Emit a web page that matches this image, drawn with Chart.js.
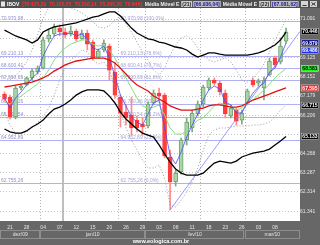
<!DOCTYPE html>
<html>
<head>
<meta charset="utf-8">
<script src="https://cdn.jsdelivr.net/npm/chart.js@4.4.1/dist/chart.umd.min.js"></script>
<style>
  html, body { margin: 0; padding: 0; background: #676767; overflow: hidden; }
  canvas { display: block; }
</style>
</head>
<body>
<canvas id="chart" width="320" height="245"></canvas>
<script>
// trading days shown (dd/mm)
const dates = ['18/12','21/12','22/12','23/12','28/12','29/12','30/12',
  '04/01','05/01','06/01','07/01','08/01','11/01','12/01','13/01','14/01','15/01','18/01','19/01','20/01','21/01','22/01','26/01','27/01','28/01','29/01',
  '01/02','02/02','03/02','04/02','05/02','08/02','09/02','10/02','11/02','12/02','17/02','18/02','19/02','22/02','23/02','24/02','25/02','26/02',
  '01/03','02/03','03/03','04/03','05/03','08/03','09/03','10/03'];

// IBOV, thousands of points
const opens  = [67.28,67.13,66.12,67.59,67.74,68.10,68.40, 68.60,70.08,70.33,70.63,70.43,70.33,70.48,70.08,70.38,69.92,69.16,69.52,69.72,68.40,67.13,66.37,66.22,65.96,65.76,
  65.66,66.83,67.33,67.23,64.09,62.82,63.33,64.95,65.56,66.27,66.78,67.59,67.99,67.84,67.33,66.17,66.47,65.96, 66.83,67.99,67.84,67.59,68.25,69.11,68.91,69.97];
const highs  = [67.39,67.23,67.69,67.74,68.15,68.55,68.71, 70.18,70.53,70.84,70.79,70.63,70.74,70.58,70.53,70.53,70.03,69.57,70.03,69.82,68.91,67.23,66.73,67.13,66.17,66.07,
  66.88,67.49,67.59,67.33,64.44,63.43,65.05,66.07,66.47,66.93,67.74,68.10,68.10,67.94,67.49,66.73,66.57,66.47, 67.54,68.10,68.05,68.15,69.11,69.21,70.13,70.63];
const lows   = [66.93,66.02,66.02,67.49,67.69,67.99,68.30, 68.55,69.92,70.23,70.23,70.13,70.23,69.97,70.03,69.52,69.01,69.11,69.42,67.99,67.08,65.61,65.71,65.20,65.36,65.20,
  65.56,66.73,66.98,64.04,61.40,62.61,63.22,64.70,65.36,66.17,66.62,67.49,67.74,67.23,66.07,66.07,65.71,65.76, 66.73,67.64,67.69,66.98,68.20,68.65,68.81,69.87];
const closes = [67.03,66.12,67.59,67.69,68.10,68.45,68.60, 70.03,70.28,70.69,70.43,70.28,70.48,70.08,70.38,69.82,69.11,69.47,69.87,68.50,67.23,66.32,66.07,65.56,65.56,65.61,
  66.78,67.33,67.18,64.14,62.82,63.27,64.95,65.86,66.32,66.78,67.64,67.99,67.84,67.39,66.27,66.57,65.91,66.32, 67.44,67.74,67.94,67.99,68.96,68.76,69.72,70.446];

// indicators
const bandUpper = [70.53,70.38,70.23,70.13,70.03,69.87,70.03,70.43,70.58,70.69,70.74,70.79,70.84,70.89,70.99,71.09,71.19,71.24,71.35,71.45,71.45,71.24,70.94,70.63,70.38,70.23,
  70.08,70.03,69.92,69.87,69.77,69.67,69.62,69.52,69.31,69.16,69.26,69.37,69.37,69.31,69.26,69.26,69.26,69.26,69.26,69.31,69.37,69.47,69.62,69.77,70.03,70.43];
const bandLower = [65.51,65.36,65.30,65.30,65.41,65.61,65.76,65.96,66.27,66.52,66.62,66.78,66.98,67.23,67.39,67.49,67.49,67.49,67.44,67.18,66.83,66.37,66.02,65.76,65.51,65.30,
  65.20,65.10,64.70,64.24,63.83,63.48,63.27,63.17,63.17,63.17,63.27,63.53,63.78,63.88,63.83,63.78,63.88,64.09,64.19,64.29,64.34,64.39,64.49,64.70,64.90,65.13];
const ema21 = [67.64,67.69,67.74,67.79,67.84,67.89,67.99,68.10,68.25,68.45,68.60,68.76,68.86,68.96,69.01,69.06,69.11,69.11,69.11,69.01,68.86,68.60,68.30,67.99,67.74,67.59,
  67.44,67.18,67.03,66.88,66.68,66.57,66.47,66.47,66.47,66.52,66.57,66.68,66.73,66.73,66.68,66.62,66.62,66.68,66.83,66.98,67.08,67.18,67.28,67.39,67.49,67.595];
const ema9 = [66.88,66.78,66.98,67.18,67.39,67.59,67.79,68.10,68.50,69.01,69.37,69.62,69.82,69.92,70.03,70.03,69.82,69.72,69.77,69.52,69.11,68.60,68.10,67.59,67.08,66.68,
  66.57,66.62,66.73,66.22,65.56,65.25,65.25,65.41,65.66,65.96,66.07,66.37,66.68,66.83,66.73,66.62,66.47,66.57,66.78,66.98,67.23,67.49,67.79,68.10,68.35,68.581];
const ema3 = [67.08,66.57,67.08,67.39,67.74,68.10,68.35,69.21,69.77,70.23,70.33,70.33,70.38,70.23,70.33,70.08,69.62,69.52,69.72,69.11,68.20,67.23,66.68,66.12,65.86,65.71,
  66.27,66.83,66.98,65.56,64.19,63.73,64.34,65.10,65.71,66.27,66.98,67.49,67.69,67.54,66.88,66.73,66.32,66.32,66.88,67.33,67.64,67.84,68.40,68.60,69.16,69.879];
const shortUpper = [68.10,67.99,68.20,68.50,68.91,69.52,70.28,71.14,71.65,71.85,71.85,71.75,71.65,71.55,71.40,71.19,70.94,70.69,70.63,70.74,71.04,71.14,70.84,70.43,69.92,69.42,
  69.01,68.50,68.25,68.60,69.26,69.77,70.13,70.23,70.03,69.62,69.26,69.01,68.91,69.01,69.11,68.91,68.50,67.99,67.89,68.10,68.40,68.81,69.42,70.03,70.53,71.04];
const shortLower = [66.37,65.71,65.30,65.25,65.36,65.56,65.86,66.12,66.57,67.23,67.99,68.60,69.01,69.26,69.52,69.42,69.01,68.81,68.91,68.50,67.59,66.37,65.56,64.95,64.44,63.93,
  63.53,63.53,63.68,63.02,61.65,61.55,61.90,62.31,62.82,63.53,64.44,65.20,65.46,65.56,65.56,65.61,65.66,65.66,65.66,65.71,65.71,65.76,65.86,66.12,66.47,66.715];
const trendX = [30, 53.5];
const trendY = [61.40, 70.45];

// retracement levels
const fibLevels = [70.971, 69.210, 68.600, 67.990, 66.780, 66.120, 64.952, 62.755];
const fibLeft   = ['70.970,98','69.210,13','68.600,41','67.990,69','66.780,26','66.120,54','64.952,89','62.755,26'];
const fibMid    = ['70.970,98 (100,0%)','69.210,13 (78,6%)','68.600,41 (70,7%)','67.990,69 (61,8%)','66.780,26 (50,0%)','66.120,54 (38,2%)','64.952,89 (23,6%)','62.755,26 (0,0%)'];

// axes
const yTicks = [71.091, 70.118, 69.125, 68.152, 67.179, 66.206, 65.233, 64.268, 63.287, 62.314, 61.341];
const yTickText = ['71.091', '', '69.125', '68.152', '67.179', '66.206', '', '64.268', '63.287', '62.314', '61.341'];
const xTickIdx = [1, 4, 7, 10, 13, 16, 19, 22, 25, 28, 31, 34, 37, 40, 43, 46, 49];
const months = ['dez/09', 'jan/10', 'fev/10', 'mar/10'];
const monthEdges = [-0.815, 6.5, 25.5, 43.5, 53.53];
const vGrid = [6.5, 20.5, 25.5, 35.5, 43.5];
const cursorIdx = 10.6;

// last values shown on the right
const lastVals = [70.446, 69.879, 69.486, 68.581, 67.595, 66.715, 65.133];
const lastText = ['70.446', '69.879', '69.486', '68.581', '67.595', '66.715', '65.133'];
const lastBg = ['#000', '#00007a', '#2233ee', '#22ee22', '#ee2020', '#000', '#000'];
const lastFg = ['#fff', '#fff', '#fff', '#000', '#fff', '#fff', '#fff'];

const FONT = "'Liberation Sans', Arial, sans-serif";
const PANEL = '#676767';

const up = closes.map((c, i) => c >= opens[i]);
const pts = arr => arr.map((v, i) => ({ x: i, y: v }));

const line = (data, color, width, order, dash) => ({
  type: 'line', data, borderColor: color, borderWidth: width, borderDash: dash || [],
  pointRadius: 0, fill: false, tension: 0, order
});

const decor = {
  id: 'decor',
  beforeDraw(chart) {
    const { ctx, chartArea: a, width, height } = chart;
    ctx.save();
    ctx.fillStyle = PANEL;
    ctx.fillRect(0, 0, width, height);
    ctx.fillStyle = '#fff';
    ctx.fillRect(a.left, a.top, a.right - a.left, a.bottom - a.top);
    ctx.restore();
  },
  beforeDatasetsDraw(chart) {
    const { ctx, chartArea: a, scales: { x, y } } = chart;
    ctx.save();
    ctx.beginPath();
    ctx.rect(a.left, a.top, a.right - a.left, a.bottom - a.top);
    ctx.clip();

    ctx.strokeStyle = '#b4b4b4';
    ctx.lineWidth = 1;
    ctx.setLineDash([1, 2]);
    vGrid.forEach(v => {
      const px = Math.round(x.getPixelForValue(v)) + 0.5;
      ctx.beginPath(); ctx.moveTo(px, a.top); ctx.lineTo(px, a.bottom); ctx.stroke();
    });
    ctx.setLineDash([]);

    ctx.strokeStyle = '#a8a8a8';
    ctx.lineWidth = 1.5;
    const cx = Math.round(x.getPixelForValue(cursorIdx));
    ctx.beginPath(); ctx.moveTo(cx, a.top); ctx.lineTo(cx, a.bottom); ctx.stroke();

    ctx.font = '5px ' + FONT;
    ctx.textBaseline = 'bottom';
    fibLevels.forEach((v, i) => {
      const py = Math.round(y.getPixelForValue(v)) + 0.5;
      ctx.strokeStyle = '#b0b0f2';
      ctx.lineWidth = 1;
      ctx.beginPath(); ctx.moveTo(a.left, py); ctx.lineTo(a.right, py); ctx.stroke();
      ctx.fillStyle = '#9090d0';
      ctx.fillText(fibLeft[i], a.left + 1, py - 0.5);
      ctx.fillStyle = '#a4a4d8';
      ctx.fillText(fibMid[i], x.getPixelForValue(21), py - 0.5);
    });
    ctx.restore();
  },
  afterDraw(chart) {
    const { ctx, chartArea: a, scales: { x, y }, width } = chart;
    ctx.save();

    // title bar
    ctx.fillStyle = '#4e4e4e';
    ctx.fillRect(0, 0, width, 8);
    ctx.fillStyle = '#e6e6e6';
    ctx.fillRect(1, 1.5, 4, 5);
    ctx.font = 'bold 5px ' + FONT;
    ctx.textBaseline = 'middle';
    const head = [
      ['IBOV', '#ffffff', null], ['[70.425,29', '#ff3030', null], ['70.165,55', '#ff3030', null],
      ['70.158,14', '#ff3030', null], ['70.295,20', '#ff3030', null], ['70.446]', '#ff3030', null],
      ['Média Móvel E', '#f2f2f2', null], ['(21)', '#222', '#cfcfcf'], ['[66.936,04]', '#1a1aa0', '#bdbdbd'],
      ['Média Móvel E', '#f2f2f2', null], ['(22)', '#222', '#cfcfcf'], ['[67.081,62]', '#1a1aa0', '#bdbdbd'],
      ['Média', '#f2f2f2', null]
    ];
    ctx.beginPath(); ctx.rect(0, 0, 299, 8); ctx.clip();
    let tx = 7;
    head.forEach(([t, c, bg]) => {
      const w = ctx.measureText(t).width;
      if (bg) { ctx.fillStyle = bg; ctx.fillRect(tx - 1, 1, w + 2, 6); }
      ctx.fillStyle = c;
      ctx.fillText(t, tx, 4.3);
      tx += w + 3;
    });
    ctx.restore();
    ctx.save();
    ctx.fillStyle = '#d4d4d4';
    ctx.fillRect(301, 1, 7, 6);
    ctx.fillRect(310, 1, 7, 6);
    ctx.strokeStyle = '#333';
    ctx.lineWidth = 1;
    ctx.beginPath(); ctx.moveTo(302.5, 5.5); ctx.lineTo(306.5, 5.5); ctx.stroke();
    ctx.beginPath(); ctx.moveTo(311.5, 2.5); ctx.lineTo(315.5, 5.5); ctx.moveTo(315.5, 2.5); ctx.lineTo(311.5, 5.5); ctx.stroke();

    // last value boxes on the price axis
    ctx.font = 'bold 5px ' + FONT;
    ctx.textAlign = 'center';
    ctx.textBaseline = 'middle';
    lastVals.forEach((v, i) => {
      const py = y.getPixelForValue(v);
      const w = ctx.measureText(lastText[i]).width + 2;
      ctx.fillStyle = lastBg[i];
      ctx.fillRect(310 - w / 2, py - 3, w, 6);
      ctx.strokeStyle = '#ddd';
      ctx.lineWidth = 0.5;
      ctx.strokeRect(310 - w / 2, py - 3, w, 6);
      ctx.fillStyle = lastFg[i];
      ctx.fillText(lastText[i], 310, py + 0.3);
    });

    // month row
    ctx.font = '5px ' + FONT;
    ctx.strokeStyle = '#8e8e8e';
    ctx.lineWidth = 1;
    months.forEach((m, i) => {
      const x0 = Math.max(a.left, x.getPixelForValue(monthEdges[i]));
      const x1 = Math.min(a.right, x.getPixelForValue(monthEdges[i + 1]));
      ctx.strokeRect(Math.round(x0) + 0.5, 230.5, Math.round(x1 - x0) - 1, 8);
      ctx.fillStyle = '#e4e4e4';
      ctx.fillText(m, (x0 + x1) / 2, 234.8);
    });

    // watermark
    ctx.font = 'bold 5.5px ' + FONT;
    ctx.fillStyle = '#ffffff';
    ctx.fillText('www.eologica.com.br', 161, 241.5);
    ctx.restore();
  }
};

new Chart(document.getElementById('chart'), {
  type: 'bar',
  data: {
    datasets: [
      {
        type: 'bar', grouped: false, order: 20,
        data: dates.map((d, i) => ({ x: i, y: [lows[i], highs[i]] })),
        barThickness: 1,
        backgroundColor: up.map(u => u ? '#7ea87e' : '#ff8a8a')
      },
      {
        type: 'bar', grouped: false, order: 19,
        data: dates.map((d, i) => ({ x: i, y: [opens[i], closes[i]] })),
        barThickness: 4, minBarLength: 1, borderSkipped: false,
        backgroundColor: up.map(u => u ? '#a9d6a9' : '#ff3b3b'),
        borderColor: up.map(u => u ? '#6f9f6f' : '#ff3b3b'),
        borderWidth: 1
      },
      line(pts(shortUpper), '#9a9a9a', 1, 9, [1, 2]),
      line(pts(shortLower), '#9a9a9a', 1, 8, [1, 2]),
      line(trendX.map((v, i) => ({ x: v, y: trendY[i] })), '#8080ff', 0.8, 7),
      line(pts(ema9), '#86e086', 1, 6),
      line(pts(ema3), '#4b4bf0', 0.8, 5),
      line(pts(ema21), '#e01010', 1.3, 4),
      line(pts(bandUpper), '#000000', 1.3, 3),
      line(pts(bandLower), '#000000', 1.3, 2)
    ]
  },
  options: {
    responsive: false,
    animation: false,
    devicePixelRatio: 1,
    events: [],
    layout: { padding: { top: 8, left: 0, right: 0, bottom: 0 } },
    plugins: { legend: { display: false }, tooltip: { enabled: false } },
    scales: {
      x: {
        type: 'linear', min: -0.815, max: 53.53, offset: false,
        grid: { display: false }, border: { display: false },
        afterBuildTicks: s => { s.ticks = xTickIdx.map(v => ({ value: v })); },
        afterFit: s => { s.height = 24; },
        ticks: {
          autoSkip: false, maxRotation: 0, padding: -4, color: '#e4e4e4',
          font: { family: FONT, size: 5 },
          callback: v => dates[v] ? dates[v].slice(0, 2) : ''
        }
      },
      y: {
        type: 'linear', position: 'right', min: 60.84, max: 71.65,
        grid: { color: '#c4c4c4', lineWidth: 1, drawTicks: false },
        border: { display: false, dash: [1, 2] },
        afterBuildTicks: s => { s.ticks = yTicks.map(v => ({ value: v })); },
        afterFit: s => { s.width = 20; },
        ticks: {
          crossAlign: 'center', padding: 0, color: '#e4e4e4',
          font: { family: FONT, size: 5 },
          callback: (v, i) => yTickText[i]
        }
      }
    }
  },
  plugins: [decor]
});
</script>
</body>
</html>
